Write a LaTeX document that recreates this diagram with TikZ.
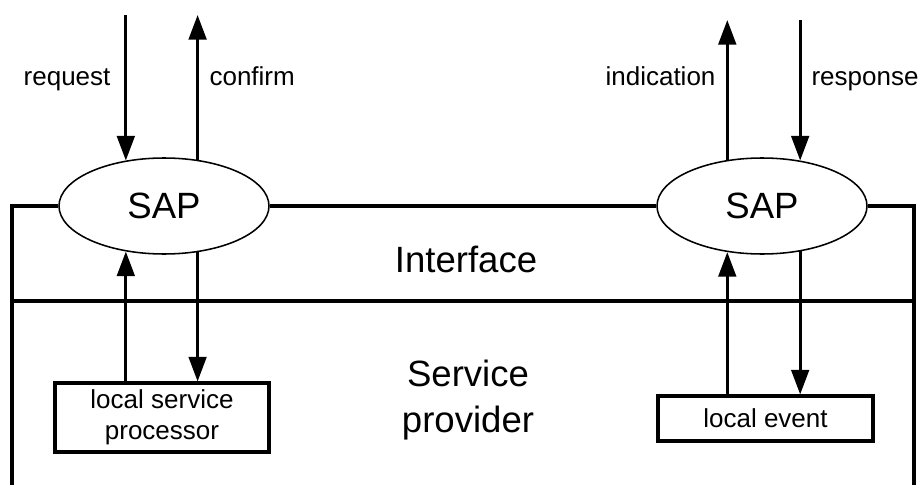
\documentclass[tikz,border=0pt]{standalone}
\usepackage{fontspec}
\setmainfont{Liberation Sans}
\usetikzlibrary{shapes.geometric,arrows.meta}

\tikzset{
  sap/.style={ellipse, draw, line width=1.1pt, minimum width=5.25cm, minimum height=2.4cm,
    font=\fontsize{26}{31}\selectfont},
  local/.style={draw, line width=2.2pt, align=center, inner sep=0pt,
    font=\fontsize{18.5}{22}\selectfont},
  flow/.style={line width=2.2pt, -{Triangle[length=17.5pt,width=12.5pt]}},
  lbl/.style={font=\fontsize{18.5}{22}\selectfont, inner sep=0pt},
  big/.style={font=\fontsize{26}{32.5}\selectfont, align=center, inner sep=0pt},
}

\begin{document}
\begin{tikzpicture}[x=0.25cm, y=-0.25cm, line width=2.2pt]
  \useasboundingbox (0,0) rectangle (91.9,48.5);

  \node[sap] (sapL) at (16.4,20.6) {SAP};
  \node[sap] (sapR) at (76.2,20.6) {SAP};
  \node[local, minimum width=5.35cm, minimum height=1.725cm] (procL) at (16.2,41.75) {local service\\processor};
  \node[local, minimum width=5.375cm, minimum height=1.125cm] (eventR) at (76.55,41.85) {local event};

  % frame and layer boundary
  \draw (1.2,48.5) -- (1.2,20.6) -- (sapL.west);
  \draw (sapL.east) -- (sapR.west);
  \draw (sapR.east) -- (91.4,20.6) -- (91.4,48.5);
  \draw (1.2,30.1) -- (91.4,30.1);

  \node[big, anchor=base] (iface) at (46.6,27.2) {Interface};
  \node[big] (prov) at (46.8,40.0) {Service\\provider};

  % primitives at the upper edge
  \coordinate (topL) at (0,1.5);
  \coordinate (topR) at (0,2.0);
  \draw[flow] (sapL.130 |- topL) -- (sapL.130);
  \draw[flow] (sapL.54) -- (sapL.54 |- topL);
  \draw[flow] (sapR.127) -- (sapR.127 |- topR);
  \draw[flow] (sapR.50 |- topR) -- (sapR.50);

  \node[lbl, anchor=base east] (req) at (11.2,8.5) {request};
  \node[lbl, anchor=base west] (conf) at (20.8,8.5) {confirm};
  \node[lbl, anchor=base east] (ind) at (71.7,8.5) {indication};
  \node[lbl, anchor=base west] (resp) at (81.0,8.5) {response};

  % local side
  \draw[flow] (sapL.230 |- procL.north) -- (sapL.230);
  \draw[flow] (sapL.-54) -- (sapL.-54 |- procL.north);
  \draw[flow] (sapR.233 |- eventR.north) -- (sapR.233);
  \draw[flow] (sapR.-50) -- (sapR.-50 |- eventR.north);
\end{tikzpicture}
\end{document}
